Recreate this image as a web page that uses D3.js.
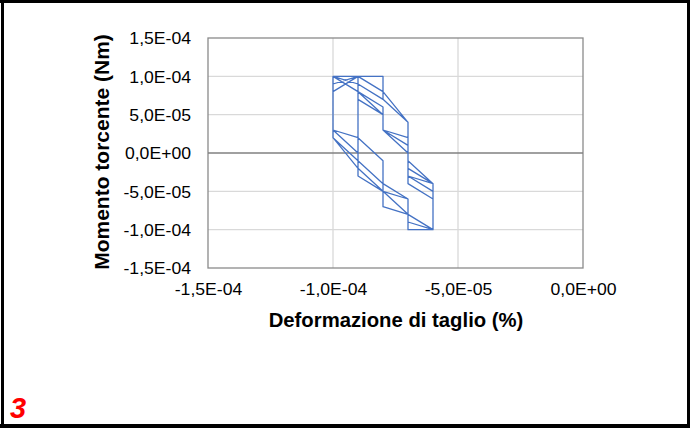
<!DOCTYPE html>
<html><head><meta charset="utf-8">
<script src="https://cdn.jsdelivr.net/npm/d3@7/dist/d3.min.js"></script>
<style>body{margin:0;background:#fff}svg{display:block}</style></head>
<body><svg id="c" width="690" height="428"></svg>
<script>
// Shear strain (%) and torque (Nm) (quantised at 1e-5)
const strain = [
 -1.0e-4,-1.0e-4,-9e-5,-9e-5,-8e-5,-8e-5,-7e-5,-7e-5,-6e-5,
 -6e-5,-7e-5,-7e-5,-8e-5,-8e-5,-1.0e-4,
 -9e-5,-9e-5,-8e-5,-8e-5,-7e-5,-7e-5,-6e-5,
 -6e-5,-7e-5,-7e-5,-8e-5,-8e-5,-9e-5,-9e-5,-1.0e-4,
 -1.0e-4,-9e-5,-9e-5,-8e-5,-8e-5,-7e-5,-6e-5,
 -6e-5,-7e-5,-7e-5,-8e-5,-8e-5,-9e-5,-9e-5,-1.0e-4,
 -1.0e-4,-9e-5,-8e-5,-8e-5,-7e-5,-7e-5,-6e-5,
 -6e-5,-7e-5,-7e-5,-8e-5,-9e-5,-9e-5,-1.0e-4,
 -9e-5,-8e-5,-7e-5,-7e-5,-6e-5,-6e-5,
 -6e-5,-7e-5,-7e-5,-8e-5,-8e-5,-9e-5,-1.0e-4,
 -1.0e-4,-9e-5,-8e-5,-7e-5,-6e-5
];
const moment = [
 1.0e-4,3e-5,0,-3e-5,-5e-5,-7e-5,-8e-5,-1.0e-4,-1.0e-4,
 -4e-5,-2e-5,4e-5,7e-5,1.0e-4,1.0e-4,
 8e-5,-1e-5,-4e-5,-5e-5,-6e-5,-9e-5,-1.0e-4,
 -5e-5,-3e-5,2e-5,3e-5,5e-5,8e-5,1.0e-4,8e-5,
 2e-5,-1e-5,-3e-5,-5e-5,-7e-5,-8e-5,-1.0e-4,
 -6e-5,-4e-5,1e-5,3e-5,5e-5,7e-5,9e-5,1.0e-4,
 3e-5,2e-5,-1e-5,-4e-5,-6e-5,-1.0e-4,-1.0e-4,
 -4e-5,-3e-5,4e-5,7e-5,9e-5,1.0e-4,9e-5,
 1.0e-4,8e-5,4e-5,-1e-5,-4e-5,-1.0e-4,
 -6e-5,-4e-5,0,3e-5,6e-5,8e-5,1.0e-4,
 2e-5,-2e-5,-5e-5,-8e-5,-1.0e-4
];
const xTicks = [-1.5e-4,-1.0e-4,-5e-5,0];
const xTickLabels = ["-1,5E-04","-1,0E-04","-5,0E-05","0,0E+00"];
const yTicks = [-1.5e-4,-1.0e-4,-5e-5,0,5e-5,1.0e-4,1.5e-4];
const yTickLabels = ["-1,5E-04","-1,0E-04","-5,0E-05","0,0E+00","5,0E-05","1,0E-04","1,5E-04"];
const xTitle = "Deformazione di taglio (%)";
const yTitle = "Momento torcente (Nm)";
const label = "3";

const svg = d3.select("#c");
const L=208,R=583,T=38,B=268;
const x = d3.scaleLinear().domain([-1.5e-4,0]).range([L,R]);
const y = d3.scaleLinear().domain([-1.5e-4,1.5e-4]).range([B,T]);
const font = "'Liberation Sans', Arial, sans-serif";

svg.append("rect").attr("width",690).attr("height",428).attr("fill","#fff");

// gridlines
const g = svg.append("g");
g.selectAll(".hg").data(yTicks.filter(d=>d!==0 && d!==yTicks[0] && d!==yTicks[yTicks.length-1])).join("line")
 .attr("x1",L).attr("x2",R).attr("y1",d=>y(d)).attr("y2",d=>y(d))
 .attr("stroke","#d9d9d9").attr("stroke-width",1.3);
g.selectAll(".vg").data(xTicks.slice(1,-1)).join("line")
 .attr("y1",T).attr("y2",B).attr("x1",d=>x(d)).attr("x2",d=>x(d))
 .attr("stroke","#d9d9d9").attr("stroke-width",1.3);
// plot border
svg.append("rect").attr("x",L).attr("y",T).attr("width",R-L).attr("height",B-T)
 .attr("fill","none").attr("stroke","#8a8a8a").attr("stroke-width",1.3);
// zero line
svg.append("line").attr("x1",L).attr("x2",R).attr("y1",y(0)).attr("y2",y(0))
 .attr("stroke","#808080").attr("stroke-width",1.6);

// axes labels
function widen(sel, k){ sel.each(function(){ const w=this.getComputedTextLength(); d3.select(this).attr("textLength",w*k).attr("lengthAdjust","spacingAndGlyphs"); }); }
const xa = d3.axisBottom(x).tickValues(xTicks).tickFormat((d,i)=>xTickLabels[i]).tickSize(0).tickPadding(15);
const xg = svg.append("g").attr("transform",`translate(0,${B})`).call(xa);
xg.select(".domain").remove();
xg.selectAll("text").attr("font-family",font).attr("font-size",16).attr("fill","#000").attr("dy","0.72em");
widen(xg.selectAll("text"),1.1);
const ya = d3.axisLeft(y).tickValues(yTicks).tickFormat((d,i)=>yTickLabels[i]).tickSize(0).tickPadding(17);
const yg = svg.append("g").attr("transform",`translate(${L},0)`).call(ya);
yg.select(".domain").remove();
yg.selectAll("text").attr("font-family",font).attr("font-size",16).attr("fill","#000").attr("dy","0.36em");
widen(yg.selectAll("text"),1.1);

// data
const pts = strain.map((s,i)=>({s, m: moment[i]}));
svg.append("path").datum(pts)
 .attr("d", d3.line().x(d=>x(d.s)).y(d=>y(d.m)))
 .attr("fill","none").attr("stroke","#4472c4").attr("stroke-width",1.3).attr("stroke-linejoin","round");

// titles
svg.append("text").attr("x",396).attr("y",327).attr("text-anchor","middle")
 .attr("font-family",font).attr("font-weight","bold").attr("font-size",20.3).text(xTitle);
svg.append("text").attr("transform",`translate(109,152) rotate(-90)`).attr("text-anchor","middle")
 .attr("font-family",font).attr("font-weight","bold").attr("font-size",21).text(yTitle);

svg.append("text").attr("x",10).attr("y",418).attr("font-family",font).attr("font-weight","bold")
 .attr("font-style","italic").attr("font-size",29).attr("fill","#ff0000").text(label);

// frame
svg.append("rect").attr("x",0).attr("y",0).attr("width",690).attr("height",3).attr("fill","#000");
svg.append("rect").attr("x",1).attr("y",0).attr("width",3).attr("height",428).attr("fill","#000");
svg.append("rect").attr("x",687).attr("y",0).attr("width",3).attr("height",428).attr("fill","#000");
svg.append("rect").attr("x",0).attr("y",424).attr("width",690).attr("height",4).attr("fill","#000");
</script></body></html>
